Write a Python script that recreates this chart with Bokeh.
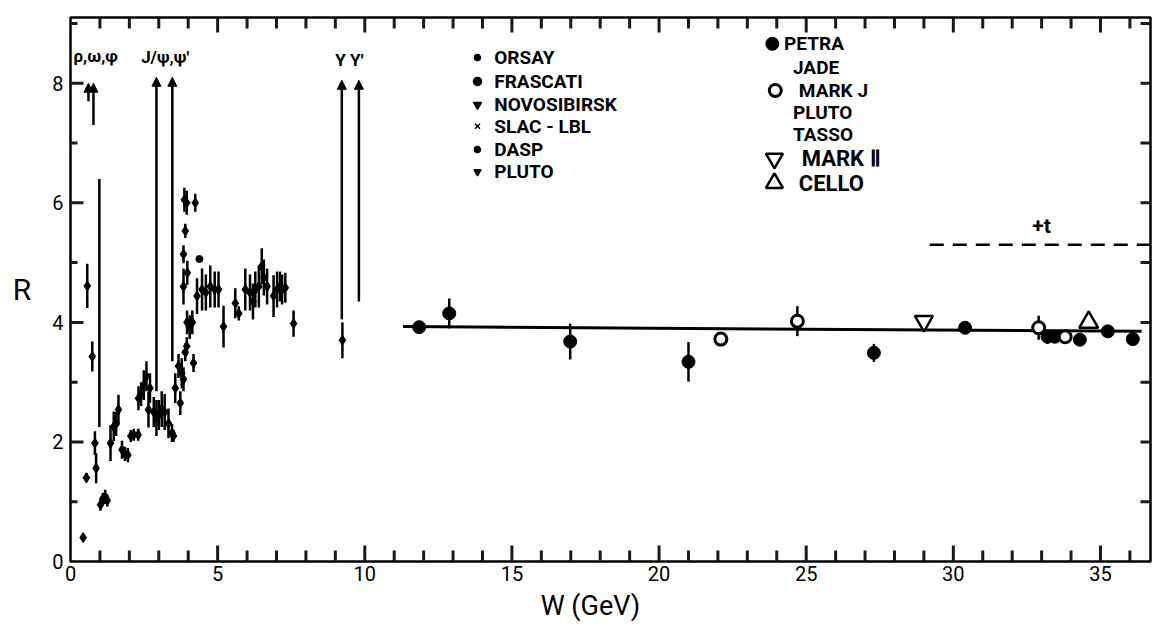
import math
from bokeh.plotting import figure
from bokeh.models import (FixedTicker, Range1d, Label, Arrow, NormalHead, ColumnDataSource)
from bokeh.core.properties import value
from bokeh.embed import file_html
from bokeh.resources import INLINE

# ---------------- data ----------------
low_W = [0.43, 0.54, 0.57, 0.74, 0.83, 0.87, 1.02, 1.10, 1.18, 1.25, 1.36, 1.47,
         1.55, 1.63, 1.75, 1.85, 1.95, 2.05, 2.15, 2.30, 2.31, 2.40, 2.49, 2.58,
         2.65, 2.70, 2.83, 2.92, 3.00, 3.10, 3.20, 3.33, 3.45, 3.50, 3.56, 3.73,
         3.67, 3.78, 3.84, 3.90, 3.95, 4.18, 3.96, 4.05, 4.14, 3.84, 3.97, 3.84,
         3.90, 3.87, 3.95, 4.24, 4.30, 4.47, 4.60, 4.75, 4.90, 5.03, 5.20, 5.60,
         5.72, 5.94, 6.10, 6.20, 6.28, 6.40, 6.50, 6.57, 6.68, 6.90, 7.02, 7.12,
         7.19, 7.30, 7.58, 9.24]
low_R = [0.40, 1.40, 4.61, 3.43, 1.98, 1.56, 0.95, 1.05, 1.08, 1.02, 1.98, 2.26,
         2.30, 2.54, 1.87, 1.80, 1.78, 2.10, 2.12, 2.12, 2.73, 2.80, 2.95, 3.10,
         2.54, 2.90, 2.50, 2.40, 2.45, 2.55, 2.50, 2.31, 2.15, 2.10, 2.90, 2.65,
         3.27, 3.15, 3.05, 3.50, 3.60, 3.32, 4.00, 3.92, 4.00, 4.60, 4.83, 5.14,
         5.53, 6.05, 6.00, 6.00, 4.44, 4.55, 4.50, 4.60, 4.55, 4.55, 3.93, 4.32,
         4.15, 4.55, 4.50, 4.35, 4.55, 4.60, 4.94, 4.75, 4.60, 4.44, 4.55, 4.60,
         4.55, 4.58, 3.98, 3.70]
low_err = [0.05, 0.08, 0.37, 0.25, 0.20, 0.25, 0.10, 0.10, 0.12, 0.10, 0.30, 0.25,
           0.20, 0.25, 0.15, 0.12, 0.12, 0.10, 0.10, 0.10, 0.20, 0.20, 0.25, 0.25,
           0.30, 0.25, 0.25, 0.30, 0.25, 0.30, 0.30, 0.25, 0.15, 0.10, 0.25, 0.20,
           0.20, 0.25, 0.20, 0.15, 0.15, 0.15, 0.20, 0.20, 0.20, 0.30, 0.20, 0.15,
           0.12, 0.20, 0.20, 0.15, 0.30, 0.35, 0.30, 0.35, 0.30, 0.30, 0.35, 0.25,
           0.12, 0.35, 0.30, 0.30, 0.30, 0.35, 0.30, 0.30, 0.30, 0.35, 0.30, 0.25,
           0.25, 0.25, 0.22, 0.30]
dasp_W = [4.38]
dasp_R = [5.06]

petra_W = [11.85, 12.87, 16.98, 21.0, 27.3, 30.4, 33.2, 33.45, 34.3, 35.25, 36.1]
petra_R = [3.92, 4.15, 3.68, 3.34, 3.49, 3.91, 3.76, 3.76, 3.71, 3.85, 3.72]
petra_err = [0.10, 0.25, 0.30, 0.33, 0.15, 0.08, 0.12, 0.08, 0.08, 0.08, 0.08]
markj_W = [22.1, 24.7, 32.9, 33.8]
markj_R = [3.72, 4.02, 3.91, 3.76]
markj_err = [0.0, 0.25, 0.20, 0.0]
mark2_W = [29.0]
mark2_R = [4.02]
cello_W = [34.6]
cello_R = [4.00]

fit_W = [11.3, 36.4]
fit_R = [3.93, 3.85]
top_W = [29.2, 36.7]
top_R = [5.30, 5.30]

res_labels = ["ρ,ω,φ", "J/ψ,ψ'", "Υ Υ'"]
arrow_W = [0.61, 0.78, 2.92, 3.46, 9.22, 9.80]
arrow_lo = [7.70, 7.30, 2.85, 3.35, 4.05, 4.35]
arrow_hi = [8.00, 8.00, 8.10, 8.10, 8.05, 8.05]
phi_W = [0.98]
phi_lo = [2.25]
phi_hi = [6.40]

leg1_names = ["ORSAY", "FRASCATI", "NOVOSIBIRSK", "SLAC - LBL", "DASP", "PLUTO"]
leg1_markers = ["circle", "circle", "inverted_triangle", "x", "circle", "inverted_triangle"]
leg1_sizes = [6, 8, 8, 7, 6, 7]
leg1_R = [8.43, 8.03, 7.64, 7.28, 6.89, 6.52]
leg2_names = ["PETRA", "JADE", "MARK J", "PLUTO", "TASSO", "MARK \u2161", "CELLO"]
leg2_R = [8.66, 8.26, 7.88, 7.51, 7.14, 6.74, 6.33]

xticks = [0, 5, 10, 15, 20, 25, 30, 35]
yticks = [0, 2, 4, 6, 8]
x_minor = [float(k) for k in range(1, 37)]
y_minor = [float(k) for k in range(1, 10)]

FONT = "Roboto"
X0, X1, Y0, Y1 = 0.0, 36.7, 0.0, 9.1

p = figure(width=1155, height=632, x_range=Range1d(X0, X1), y_range=Range1d(Y0, Y1),
           output_backend="svg", toolbar_location=None,
           min_border_left=70, min_border_right=5, min_border_top=17,
           min_border_bottom=71)
p.grid.visible = False
p.outline_line_color = "black"
p.outline_line_width = 2.5
p.background_fill_color = "white"
p.border_fill_color = "white"

xa = p.xaxis[0]
xa.ticker = FixedTicker(ticks=xticks, minor_ticks=[])
xa.axis_line_color = None
xa.major_tick_line_color = None
xa.minor_tick_line_color = None
xa.major_tick_in = 0
xa.major_tick_out = 0
xa.major_label_text_font = FONT
xa.major_label_text_font_size = "20px"
xa.major_label_text_color = "black"
xa.major_label_standoff = 4
xa.axis_label = "W  (GeV)\u00a0\u00a0\u00a0\u00a0\u00a0"
xa.axis_label_text_font = FONT
xa.axis_label_text_font_size = "27px"
xa.axis_label_text_font_style = "normal"
xa.axis_label_text_color = "black"
xa.axis_label_standoff = 6

ya = p.yaxis[0]
ya.ticker = FixedTicker(ticks=yticks, minor_ticks=[])
ya.axis_line_color = None
ya.major_tick_line_color = None
ya.minor_tick_line_color = None
ya.major_tick_in = 0
ya.major_tick_out = 0
ya.major_label_text_font = FONT
ya.major_label_text_font_size = "20px"
ya.major_label_text_color = "black"
ya.major_label_standoff = 7

try:
    ya.axis_label_orientation = "horizontal"
    ya.axis_label = "R"
    ya.axis_label_text_font = FONT
    ya.axis_label_text_font_size = "30px"
    ya.axis_label_text_font_style = "normal"
    ya.axis_label_text_color = "black"
    ya.axis_label_standoff = 18
except Exception:
    p.add_layout(Label(x=10, y=307, x_units="screen", y_units="screen", text="R",
                       text_font=FONT, text_font_size="30px", text_baseline="middle",
                       text_align="left", text_color="black"))

# ---------------- inward ticks ----------------
dx_px = (X1 - X0) / 1080.0
dy_px = (Y1 - Y0) / 544.0
b_x0, b_y0, b_x1, b_y1 = [], [], [], []
for k in x_minor:
    Lb = 16 if int(k) in xticks else 11
    Lt = 15 if int(k) in xticks else 11
    b_x0 += [k, k]
    b_x1 += [k, k]
    b_y0 += [Y0 + Lb * dy_px, Y1 - Lt * dy_px]
    b_y1 += [Y0 - 0.05, Y1 + 0.05]
for k in y_minor:
    L = 13 if int(k) in yticks else 7
    b_x0 += [X0 + L * dx_px, X1 - 10 * dx_px]
    b_x1 += [X0 - 0.1, X1 + 0.1]
    b_y0 += [k, k]
    b_y1 += [k, k]
tick_src = ColumnDataSource(dict(x0=b_x0, y0=b_y0, x1=b_x1, y1=b_y1))
p.segment(x0="x0", y0="y0", x1="x1", y1="y1", source=tick_src,
          line_color="#1a1a1a", line_width=3)

# ---------------- low energy data ----------------
lo_src = ColumnDataSource(dict(W=low_W, R=low_R,
                               lo=[r - e for r, e in zip(low_R, low_err)],
                               hi=[r + e for r, e in zip(low_R, low_err)]))
p.segment(x0="W", y0="lo", x1="W", y1="hi", source=lo_src, line_color="black", line_width=2.5)
p.scatter(x="W", y="R", source=lo_src, marker="diamond", size=10, fill_color="black",
          line_color="black")
p.scatter(x=dasp_W, y=dasp_R, marker="circle", size=7, fill_color="black", line_color="black")

# ---------------- resonances ----------------
arr_src = ColumnDataSource(dict(x0=arrow_W, y0=arrow_lo, x1=arrow_W, y1=arrow_hi))
p.add_layout(Arrow(end=NormalHead(size=9, fill_color="black", line_color="black", line_width=1),
                   source=arr_src, x_start="x0", y_start="y0", x_end="x1", y_end="y1",
                   line_width=2.5, line_color="black"))
p.segment(x0=phi_W, y0=phi_lo, x1=phi_W, y1=phi_hi, line_color="black", line_width=2.5)

res_x = [0.1, 2.4, 9.0]
res_y = [8.29, 8.28, 8.22]
p.text(x=res_x, y=res_y, text=res_labels, text_font=value(FONT), text_font_size="17px",
       text_font_style="bold", text_baseline="bottom", text_align="left", text_color="black")

# ---------------- high energy ----------------
p.line(x=fit_W, y=fit_R, line_color="black", line_width=3)
p.line(x=top_W, y=top_R, line_color="black", line_width=2.5, line_dash="14 9")
p.text(x=[33.0], y=[5.62], text=["+t"], text_font=value(FONT), text_font_size="21px",
       text_font_style="bold", text_baseline="middle", text_align="center")

pe_src = ColumnDataSource(dict(W=petra_W, R=petra_R,
                               lo=[r - e for r, e in zip(petra_R, petra_err)],
                               hi=[r + e for r, e in zip(petra_R, petra_err)]))
p.segment(x0="W", y0="lo", x1="W", y1="hi", source=pe_src, line_color="black", line_width=2.5)
p.scatter(x="W", y="R", source=pe_src, marker="circle", size=13, fill_color="black",
          line_color="black")

mj_src = ColumnDataSource(dict(W=markj_W, R=markj_R,
                               lo=[r - e for r, e in zip(markj_R, markj_err)],
                               hi=[r + e for r, e in zip(markj_R, markj_err)]))
p.segment(x0="W", y0="lo", x1="W", y1="hi", source=mj_src, line_color="black", line_width=2.5)
p.scatter(x="W", y="R", source=mj_src, marker="circle", size=12, fill_color="white",
          line_color="black", line_width=3)
p.scatter(x=mark2_W, y=mark2_R, marker="inverted_triangle", size=18, fill_color="white",
          line_color="black", line_width=2.5)
p.scatter(x=cello_W, y=cello_R, marker="triangle", size=19, fill_color="white",
          line_color="black", line_width=2.5)

# ---------------- in-plot legends ----------------
p.scatter(x=[13.83] * len(leg1_R), y=leg1_R, marker=leg1_markers, size=leg1_sizes,
          fill_color="black", line_color="black", line_width=1.5)
p.text(x=[14.4] * len(leg1_R), y=leg1_R, text=leg1_names, text_font=value(FONT),
       text_font_size="19px", text_font_style="bold", text_baseline="middle",
       text_align="left")

leg2_x = [24.25, 24.55, 24.75, 24.55, 24.55, 24.85, 24.75]
leg2_size = ["19px", "19px", "19px", "19px", "19px", "22px", "22px"]
p.text(x=leg2_x, y=leg2_R, text=leg2_names, text_font=value(FONT),
       text_font_size=leg2_size, text_font_style="bold", text_baseline="middle",
       text_align="left")
p.scatter(x=[23.85], y=[leg2_R[0]], marker="circle", size=13, fill_color="black",
          line_color="black")
p.scatter(x=[23.95], y=[leg2_R[2]], marker="circle", size=12, fill_color="white",
          line_color="black", line_width=3)
p.scatter(x=[23.92], y=[leg2_R[5]], marker="inverted_triangle", size=17, fill_color="white",
          line_color="black", line_width=2.5)
p.scatter(x=[23.92], y=[leg2_R[6]], marker="triangle", size=17, fill_color="white",
          line_color="black", line_width=2.5)

open("out.html", "w").write(file_html(p, INLINE))
